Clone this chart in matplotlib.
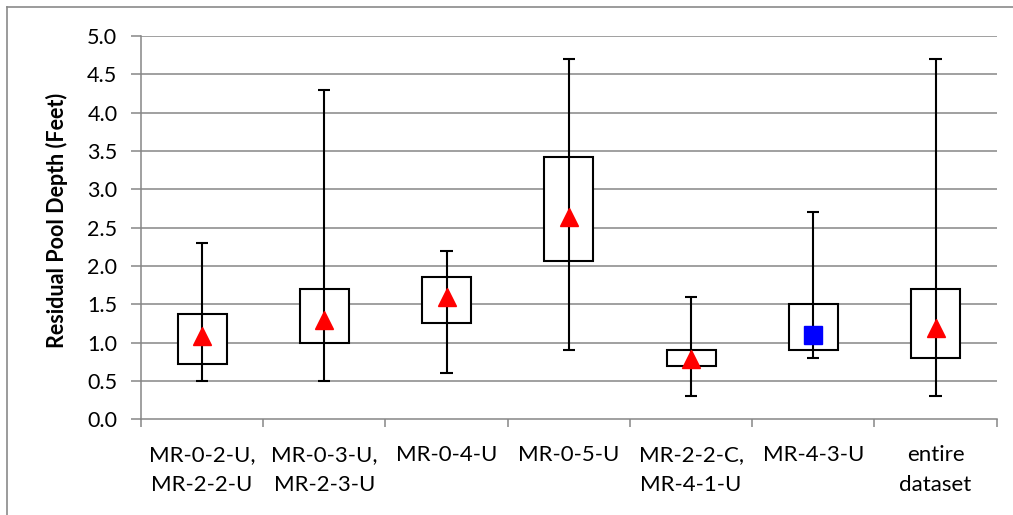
import matplotlib
matplotlib.use("Agg")
import matplotlib.pyplot as plt
from matplotlib.lines import Line2D

# Values (feet)
categories = ["MR-0-2-U,\nMR-2-2-U", "MR-0-3-U,\nMR-2-3-U", "MR-0-4-U", "MR-0-5-U",
              "MR-2-2-C,\nMR-4-1-U", "MR-4-3-U", "entire\ndataset"]
min_vals = [0.5, 0.5, 0.6, 0.9, 0.3, 0.8, 0.3]
q1_vals = [0.72, 1.0, 1.25, 2.07, 0.7, 0.9, 0.8]
q3_vals = [1.37, 1.7, 1.85, 3.42, 0.9, 1.5, 1.7]
max_vals = [2.3, 4.3, 2.2, 4.7, 1.6, 2.7, 4.7]
mean_vals = [1.09, 1.29, 1.59, 2.64, 0.79, 1.1, 1.19]
yticks = [0.0, 0.5, 1.0, 1.5, 2.0, 2.5, 3.0, 3.5, 4.0, 4.5, 5.0]

plt.rcParams["font.family"] = ["Lato", "DejaVu Sans"]

W, H = 1013, 515
fig = plt.figure(figsize=(W / 100, H / 100), dpi=100)
left, right, top, bottom = 141, 996.7, 36, 419.3
ax = fig.add_axes([left / W, 1 - bottom / H, (right - left) / W, (bottom - top) / H])

grid_col = "#868686"
x = list(range(len(categories)))

# Gridlines
for t in yticks[1:]:
    ax.axhline(t, color=grid_col, linewidth=1.1, zorder=0)

# Boxes (Q1 - Q3)
heights = [b - a for a, b in zip(q1_vals, q3_vals)]
ax.bar(x, heights, bottom=q1_vals, width=0.4, color="white", edgecolor="black",
       linewidth=1.5, zorder=2)

# Whiskers and caps
ax.vlines(x, min_vals, max_vals, color="black", linewidth=1.5, zorder=3)
ax.hlines(min_vals, [i - 0.05 for i in x], [i + 0.05 for i in x], color="black",
          linewidth=1.5, zorder=3)
ax.hlines(max_vals, [i - 0.05 for i in x], [i + 0.05 for i in x], color="black",
          linewidth=1.5, zorder=3)

# Means
for i, m in zip(x, mean_vals):
    if categories[i] == "MR-4-3-U":
        ax.plot(i, m, marker="s", color="#0000ff", markersize=13, linestyle="none", zorder=4)
    else:
        ax.plot(i, m, marker="^", color="#ff0000", markersize=13, linestyle="none", zorder=4)

ax.set_xlim(-0.5, len(categories) - 0.5)
ax.set_ylim(0, 5)

ax.set_yticks(yticks)
ax.set_yticklabels([f"{t:.1f}" for t in yticks], fontsize=15.5)
ax.tick_params(axis="y", length=7, width=1.1, color=grid_col, pad=10)

ax.set_xticks(x)
ax.set_xticklabels(categories, fontsize=16, linespacing=1.6)
ax.set_xticks([i - 0.5 for i in x] + [len(categories) - 0.5], minor=True)
ax.tick_params(axis="x", which="major", length=0, pad=18.5)
ax.tick_params(axis="x", which="minor", length=5.5, width=1.1, color=grid_col)

for side in ["top", "right"]:
    ax.spines[side].set_visible(False)
for side in ["left", "bottom"]:
    ax.spines[side].set_color(grid_col)
    ax.spines[side].set_linewidth(1.1)

ax.set_ylabel("Residual Pool Depth (Feet)", fontsize=15.5, fontweight="bold")
ax.yaxis.set_label_coords((68 - left) / (right - left), 0.52)

# Chart area border (top and left edges visible in the reference)
fig.add_artist(Line2D([7 / W, 1.0], [1 - 7 / H, 1 - 7 / H], color="#8a8a8a", linewidth=1.2))
fig.add_artist(Line2D([7 / W, 7 / W], [0.0, 1 - 7 / H], color="#8a8a8a", linewidth=1.2))

fig.savefig("out.png", dpi=100)
